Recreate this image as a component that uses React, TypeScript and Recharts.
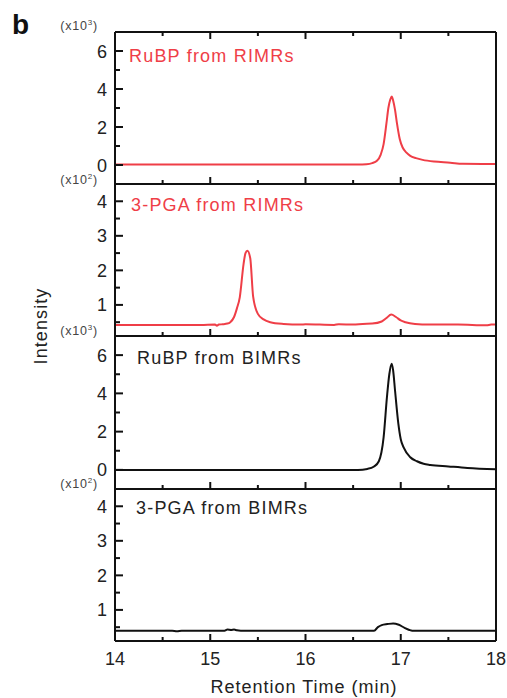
import { LineChart, Line, XAxis, YAxis } from "recharts";

// retention time (min) / intensity
const rubpRimrT = [14, 16.55, 16.64, 16.7, 16.75, 16.79, 16.82, 16.85, 16.87, 16.89, 16.905, 16.92, 16.94, 16.96, 16.99, 17.02, 17.06, 17.1, 17.16, 17.23, 17.35, 17.52, 17.65, 18];
const rubpRimrI = [0.02, 0.02, 0.04, 0.1, 0.22, 0.55, 1.1, 2.2, 3.0, 3.45, 3.6, 3.4, 2.9, 2.2, 1.35, 0.92, 0.65, 0.48, 0.36, 0.27, 0.18, 0.12, 0.06, 0.05];

const pgaRimrT = [14, 14.9, 15.05, 15.07, 15.09, 15.13, 15.18, 15.21, 15.25, 15.28, 15.31, 15.35, 15.37, 15.39, 15.42, 15.45, 15.5, 15.56, 15.63, 15.77, 15.95, 16.0, 16.3, 16.35, 16.5, 16.6, 16.7, 16.8, 16.85, 16.9, 16.95, 17.0, 17.05, 17.15, 17.3, 17.6, 17.9, 17.95, 18];
const pgaRimrI = [0.42, 0.42, 0.43, 0.4, 0.43, 0.44, 0.46, 0.5, 0.65, 0.9, 1.22, 2.19, 2.5, 2.57, 2.35, 1.25, 0.74, 0.58, 0.5, 0.45, 0.43, 0.44, 0.42, 0.44, 0.43, 0.45, 0.46, 0.52, 0.62, 0.72, 0.65, 0.55, 0.5, 0.45, 0.43, 0.43, 0.41, 0.43, 0.43];

const rubpBimrT = [14, 16.55, 16.65, 16.72, 16.77, 16.82, 16.855, 16.88, 16.905, 16.92, 16.94, 16.975, 17.0, 17.03, 17.1, 17.17, 17.24, 17.31, 17.5, 17.7, 18];
const rubpBimrI = [0.0, 0.0, 0.05, 0.18, 0.45, 1.7, 3.8, 5.0, 5.55, 5.2, 4.15, 2.4, 1.6, 1.18, 0.66, 0.45, 0.32, 0.26, 0.18, 0.1, 0.03];

const pgaBimrT = [14, 14.6, 14.65, 14.7, 15.15, 15.18, 15.22, 15.25, 15.28, 15.32, 16.72, 16.76, 16.8, 16.86, 16.92, 16.98, 17.04, 17.09, 17.12, 18];
const pgaBimrI = [0.4, 0.4, 0.38, 0.4, 0.4, 0.43, 0.42, 0.43, 0.41, 0.4, 0.4, 0.5, 0.56, 0.59, 0.61, 0.57, 0.48, 0.42, 0.4, 0.4];

const xTicks = [14, 14.5, 15, 15.5, 16, 16.5, 17, 17.5, 18];
const xMajors = [14, 15, 16, 17, 18];
const bigTicks = [0, 1, 2, 3, 4, 5, 6];
const bigMajors = [0, 2, 4, 6];
const smallTicks = [0.5, 1, 1.5, 2, 2.5, 3, 3.5, 4];
const smallMajors = [1, 2, 3, 4];

const RED = "#ef3e47";
const INK = "#111";
const FONT = "'Liberation Sans', Arial, sans-serif";

const toRows = (t: number[], v: number[]) => t.map((x, i) => ({ t: x, v: v[i] }));

const panels = [
  { top: 32, h: 152, data: toRows(rubpRimrT, rubpRimrI), color: RED, domain: [-1, 7], ticks: bigTicks, majors: bigMajors },
  { top: 184, h: 152, data: toRows(pgaRimrT, pgaRimrI), color: RED, domain: [0.1, 4.5], ticks: smallTicks, majors: smallMajors },
  { top: 336, h: 153, data: toRows(rubpBimrT, rubpBimrI), color: INK, domain: [-1, 7], ticks: bigTicks, majors: bigMajors },
  { top: 489, h: 152, data: toRows(pgaBimrT, pgaBimrI), color: INK, domain: [0.1, 4.5], ticks: smallTicks, majors: smallMajors },
];

const titles = [
  { text: "RuBP from RIMRs", x: 129, y: 61.5, color: RED },
  { text: "3-PGA from RIMRs", x: 131, y: 210.5, color: RED },
  { text: "RuBP from BIMRs", x: 137, y: 363.5, color: "#222" },
  { text: "3-PGA from BIMRs", x: 136, y: 514, color: "#222" },
];
const scaleLabels = [
  { exp: "3", y: 30 },
  { exp: "2", y: 184 },
  { exp: "3", y: 335 },
  { exp: "2", y: 488 },
];

const frame = { stroke: INK, strokeWidth: 2 };
const M_TOP = 6;

const leftTick = (majors: number[]) => (p: any) => {
  const val = p.payload.value;
  const major = majors.includes(val);
  return (
    <g>
      <line x1={p.x} x2={p.x + (major ? 8 : 5)} y1={p.y} y2={p.y} stroke={INK} strokeWidth={2} />
      {major && (
        <text x={p.x - 8} y={p.y + 6.5} textAnchor="end" fontSize={18} fontFamily={FONT} fill="#222">
          {val}
        </text>
      )}
    </g>
  );
};

const rightTick = (majors: number[]) => (p: any) => {
  const major = majors.includes(p.payload.value);
  return <line x1={p.x} x2={p.x - (major ? 8 : 5)} y1={p.y} y2={p.y} stroke={INK} strokeWidth={2} />;
};

const bottomTick = (labels: boolean) => (p: any) => {
  const val = p.payload.value;
  const major = xMajors.includes(val);
  return (
    <g>
      <line x1={p.x} x2={p.x} y1={p.y} y2={p.y - (major ? 7 : 4)} stroke={INK} strokeWidth={2} />
      {labels && major && (
        <text x={p.x} y={p.y + 24} textAnchor="middle" fontSize={18} fontFamily={FONT} fill="#222">
          {val}
        </text>
      )}
    </g>
  );
};

const topTick = (show: boolean) => (p: any) => {
  if (!show) return <g />;
  const major = xMajors.includes(p.payload.value);
  return <line x1={p.x} x2={p.x} y1={p.y} y2={p.y + (major ? 7 : 4)} stroke={INK} strokeWidth={2} />;
};

export default function App() {
  return (
    <div style={{ position: "absolute", left: 0, top: 0, width: 507, height: 698, background: "#fff", fontFamily: FONT }}>
      {panels.map((pn, i) => {
        const last = i === panels.length - 1;
        const mb = last ? 40 : 6;
        return (
          <div key={i} style={{ position: "absolute", left: 0, top: pn.top - M_TOP - 1 }}>
            <LineChart width={507} height={pn.h + M_TOP + mb + 2} data={pn.data} margin={{ top: M_TOP, right: 10, bottom: mb, left: 0 }}>
              <XAxis xAxisId="b" dataKey="t" type="number" domain={[14, 18]} ticks={xTicks} interval={0}
                height={1} tickSize={0} tickMargin={0} tickLine={false} axisLine={frame} tick={bottomTick(last)} />
              <XAxis xAxisId="t" orientation="top" dataKey="t" type="number" domain={[14, 18]} ticks={xTicks} interval={0}
                height={1} tickSize={0} tickMargin={0} tickLine={false} axisLine={frame} tick={topTick(i === 0)} />
              <YAxis yAxisId="l" type="number" domain={pn.domain} ticks={pn.ticks} interval={0} width={115}
                tickSize={0} tickMargin={0} tickLine={false} axisLine={frame} tick={leftTick(pn.majors)} />
              <YAxis yAxisId="r" orientation="right" type="number" domain={pn.domain} ticks={pn.ticks} interval={0} width={1}
                tickSize={0} tickMargin={0} tickLine={false} axisLine={frame} tick={rightTick(pn.majors)} />
              <Line xAxisId="b" yAxisId="l" type="monotone" dataKey="v" stroke={pn.color} strokeWidth={2}
                dot={false} isAnimationActive={false} />
            </LineChart>
          </div>
        );
      })}
      <svg width={507} height={698} style={{ position: "absolute", left: 0, top: 0, pointerEvents: "none" }} fontFamily={FONT}>
        <text x={12} y={34} fontSize={28} fontWeight="bold" fill="#111">b</text>
        {scaleLabels.map((s, i) => (
          <text key={i} x={98} y={s.y} textAnchor="end" fontSize={12.5} fill="#444" letterSpacing={0.8}>
            (x10<tspan fontSize={8} dy={-5}>{s.exp}</tspan><tspan dy={5}>)</tspan>
          </text>
        ))}
        {titles.map((t, i) => (
          <text key={i} x={t.x} y={t.y} fontSize={18} fill={t.color} letterSpacing={1.2}>{t.text}</text>
        ))}
        <text x={46.5} y={326} transform="rotate(-90 46.5 326)" textAnchor="middle" fontSize={18} fill="#222" letterSpacing={1.1}>
          Intensity
        </text>
        <text x={304} y={693} textAnchor="middle" fontSize={18} fill="#222" letterSpacing={1}>
          Retention Time (min)
        </text>
      </svg>
    </div>
  );
}
